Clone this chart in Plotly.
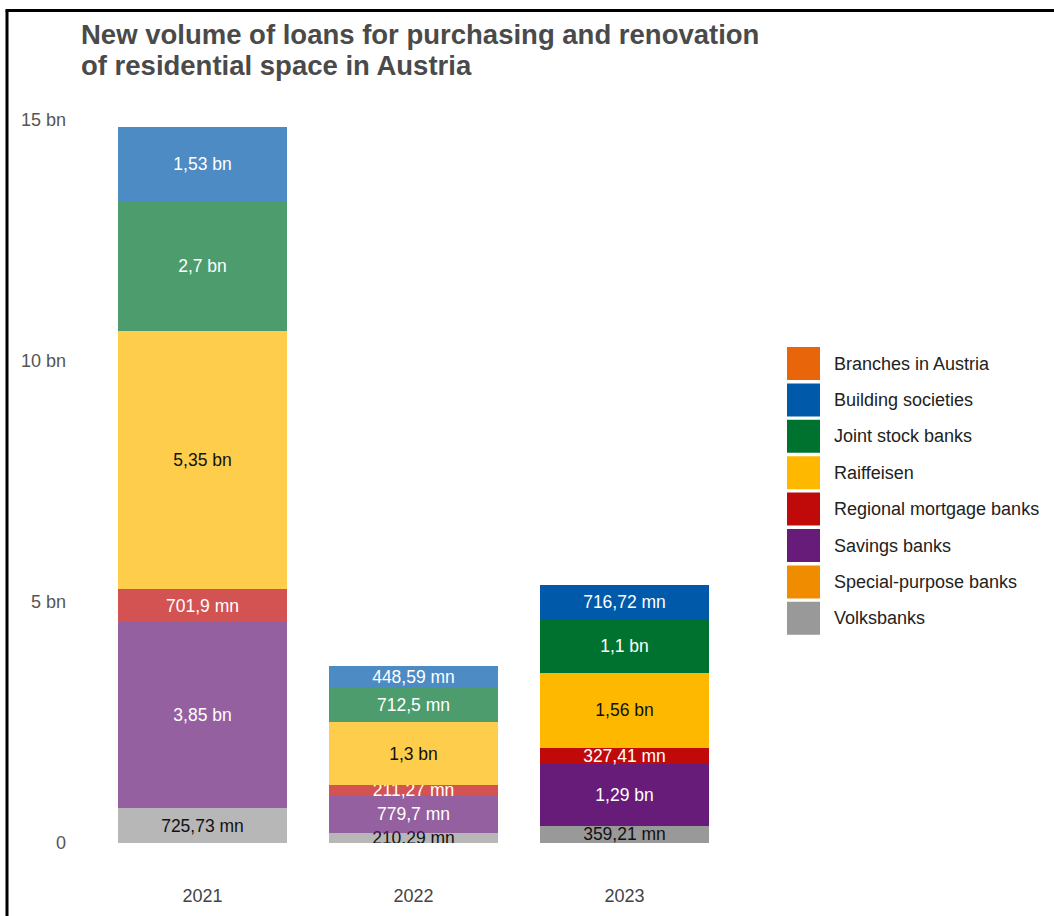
import plotly.graph_objects as go

# New loans for residential property, in millions of euro
years = ["2021", "2022", "2023"]
volksbanks = [725.73, 210.29, 359.21]
savings_banks = [3850, 779.7, 1290]
regional_mortgage_banks = [701.9, 211.27, 327.41]
raiffeisen = [5350, 1300, 1560]
joint_stock_banks = [2700, 712.5, 1100]
building_societies = [1530, 448.59, 716.72]

legend_names = [
    "Branches in Austria", "Building societies", "Joint stock banks", "Raiffeisen",
    "Regional mortgage banks", "Savings banks", "Special-purpose banks", "Volksbanks",
]
legend_colors = [
    "#E8650A", "#005AA9", "#00722F", "#FFB800",
    "#C00A0A", "#661C78", "#F08C00", "#999999",
]

y_tick_vals = [0, 5000, 10000, 15000]
y_tick_text = ["0", "5 bn", "10 bn", "15 bn"]

# stacking order, bottom to top: (values, name, colour, label colour)
stack = [
    (volksbanks, "Volksbanks", "#999999", "#111111"),
    (savings_banks, "Savings banks", "#661C78", "#ffffff"),
    (regional_mortgage_banks, "Regional mortgage banks", "#C00A0A", "#ffffff"),
    (raiffeisen, "Raiffeisen", "#FFB800", "#111111"),
    (joint_stock_banks, "Joint stock banks", "#00722F", "#ffffff"),
    (building_societies, "Building societies", "#005AA9", "#ffffff"),
]
bar_opacity = [0.7, 0.7, 1.0]


def fmt(v):
    if v >= 1000:
        s = f"{v / 1000:.2f}".rstrip("0").rstrip(".")
        return s.replace(".", ",") + " bn"
    s = f"{v:.2f}".rstrip("0").rstrip(".")
    return s.replace(".", ",") + " mn"


W, H = 1054, 916
L, R, T, B = 97, 324, 120, 73
pw, ph = W - L - R, H - T - B


def px(x):
    return (x - L) / pw


def py(y):
    return (H - B - y) / ph


fig = go.Figure()
for vals, name, color, tcolor in stack:
    fig.add_trace(go.Bar(
        x=years, y=vals, name=name,
        marker=dict(color=color, opacity=bar_opacity, line=dict(width=0)),
        text=[fmt(v) for v in vals],
        textposition="inside", insidetextanchor="middle",
        constraintext="none", textangle=0,
        textfont=dict(color=tcolor, size=17.5, family="Liberation Sans, Arial"),
        showlegend=False,
    ))

shapes = []
annotations = []
# legend swatches and labels
for i, (nm, col) in enumerate(zip(legend_names, legend_colors)):
    cy = 363.5 + i * 36.4
    shapes.append(dict(type="rect", xref="paper", yref="paper",
                       x0=px(787), x1=px(820), y0=py(cy + 16.5), y1=py(cy - 16.5),
                       fillcolor=col, line=dict(width=0)))
    annotations.append(dict(text=nm, xref="paper", yref="paper", x=px(832), y=py(cy),
                            xanchor="left", yanchor="middle", showarrow=False,
                            font=dict(size=18, color="#222222", family="Liberation Sans, Arial")))

# frame lines on the left and top
shapes.append(dict(type="line", xref="paper", yref="paper", x0=px(7), x1=px(7),
                   y0=py(10.5), y1=py(H + 5), line=dict(color="black", width=3)))
shapes.append(dict(type="line", xref="paper", yref="paper", x0=px(5.5), x1=px(W + 5),
                   y0=py(10.5), y1=py(10.5), line=dict(color="black", width=3)))

# two-line title
title_lines = ["New volume of loans for purchasing and renovation",
               "of residential space in Austria"]
for j, line in enumerate(title_lines):
    annotations.append(dict(text=f"<b>{line}</b>", xref="paper", yref="paper",
                            x=px(79), y=py(35 + j * 30), xanchor="left", yanchor="middle",
                            showarrow=False,
                            font=dict(size=27.5, color="#4a4a4a", family="Liberation Sans, Arial")))

fig.update_layout(
    width=W, height=H,
    margin=dict(l=L, r=R, t=T, b=B),
    barmode="stack", bargap=0.2,
    plot_bgcolor="white", paper_bgcolor="white",
    shapes=shapes, annotations=annotations,
    xaxis=dict(range=[-0.5, 2.5], showgrid=False, zeroline=False, showline=False,
               ticks="", ticklabelstandoff=40, automargin=False,
               tickfont=dict(size=18, color="#444444", family="Liberation Sans, Arial")),
    yaxis=dict(range=[0, 15000], showgrid=False, zeroline=False, showline=False,
               tickvals=y_tick_vals, ticktext=y_tick_text, ticks="",
               ticklabelstandoff=30, automargin=False,
               tickfont=dict(size=18, color="#555555", family="Liberation Sans, Arial")),
)

fig.write_html("out.html")
